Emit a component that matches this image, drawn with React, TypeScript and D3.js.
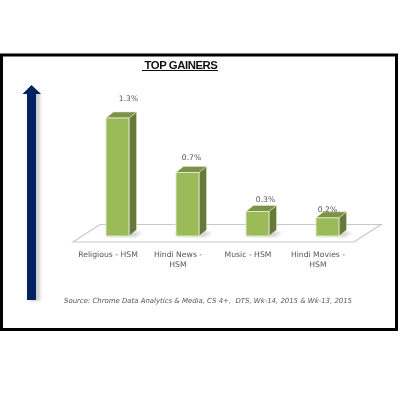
import React from "react";
import * as d3 from "d3";

const categories = ["Religious - HSM", "Hindi News - HSM", "Music - HSM", "Hindi Movies - HSM"];
const categoryLines = [["Religious - HSM"], ["Hindi News -", "HSM"], ["Music - HSM"], ["Hindi Movies -", "HSM"]];
const values = [1.3, 0.7, 0.27, 0.2];
const labelShift = [11, 4, 8, 0];
const labelRise = [17, 12, 9, 6];
const title = "TOP GAINERS";
const source = "Source: Chrome Data Analytics & Media, CS 4+,  DTS, Wk-14, 2015 & Wk-13, 2015";

export default function App() {
  const x = d3.scaleBand<string>().domain(categories).range([82.5, 362.5]).paddingInner(0.671).paddingOuter(0.3355);
  const y = d3.scaleLinear().domain([0, 1.3]).range([236, 118]);
  const dx = 7.5, dy = 6;
  const font = "DejaVu Sans, sans-serif";
  const poly = (p: number[][]) => p.map((q) => q.join(",")).join(" ");
  return (
    <svg width={400} height={400} style={{ position: "absolute", left: 0, top: 0, background: "#fff" }}>
      <defs>
        <filter id="soft" x="-5%" y="-5%" width="110%" height="110%">
          <feGaussianBlur stdDeviation="0.35" />
        </filter>
        <filter id="shadow" x="-100%" y="-10%" width="300%" height="120%">
          <feGaussianBlur stdDeviation="1.5" />
        </filter>
      </defs>
      <g filter="url(#soft)">
        <rect x={1.5} y={55} width={395} height={274.5} fill="#fff" stroke="#000" strokeWidth={3} />
        <text x={181} y={69} textAnchor="middle" fontFamily="Liberation Sans, Arial, sans-serif" fontWeight={700} fontSize={11.3} letterSpacing={-0.4} fill="#111">{title}</text>
        <line x1={142} x2={218} y1={70.5} y2={70.5} stroke="#111" strokeWidth={1} />

        <rect x={30} y={92} width={10} height={209} fill="#9a9a9a" opacity={0.5} filter="url(#shadow)" />
        <polygon points={poly([[31.5, 85], [41, 94], [36, 94], [36, 300], [27, 300], [27, 94], [22.5, 94]])} fill="#002060" />

        <polygon points={poly([[73, 242], [100, 224.5], [381, 224.5], [354, 242]])} fill="#fff" stroke="#c8c8c8" strokeWidth={1.2} />

        {categories.map((c, i) => {
          const bx = x(c)!;
          const w = x.bandwidth();
          const top = y(values[i]);
          const bottom = y(0);
          return (
            <g key={c}>
              <polygon points={poly([[bx - 3, bottom + 1], [bx + w + 6, bottom + 1], [bx + w + 13, bottom - 4], [bx + w, bottom - 4]])} fill="#b5b5b5" opacity={0.6} filter="url(#shadow)" />
              <polygon points={poly([[bx + w, top], [bx + w + dx, top - dy], [bx + w + dx, bottom - dy], [bx + w, bottom]])} fill="#66793a" stroke="#dfe8c8" strokeWidth={0.5} />
              <polygon points={poly([[bx, top], [bx + dx, top - dy], [bx + w + dx, top - dy], [bx + w, top]])} fill="#7d9248" stroke="#dfe8c8" strokeWidth={0.5} />
              <rect x={bx} y={top} width={w} height={bottom - top} fill="#9bbb59" stroke="#e3ecd0" strokeWidth={0.9} />
              <text x={bx + w / 2 + labelShift[i]} y={top - labelRise[i]} textAnchor="middle" fontFamily={font} fontSize={7.6} fill="#555">
                {values[i].toFixed(1)}%
              </text>
              {categoryLines[i].map((l, k) => (
                <text key={l} x={bx + w / 2 - 9.5} y={256.5 + k * 10.5} textAnchor="middle" fontFamily={font} fontSize={7.7} fill="#555">{l}</text>
              ))}
            </g>
          );
        })}

        <text x={64} y={303} fontFamily={font} fontStyle="italic" fontSize={7} fill="#555" style={{ whiteSpace: "pre" }} textLength={288} lengthAdjust="spacingAndGlyphs">{source}</text>
      </g>
    </svg>
  );
}
